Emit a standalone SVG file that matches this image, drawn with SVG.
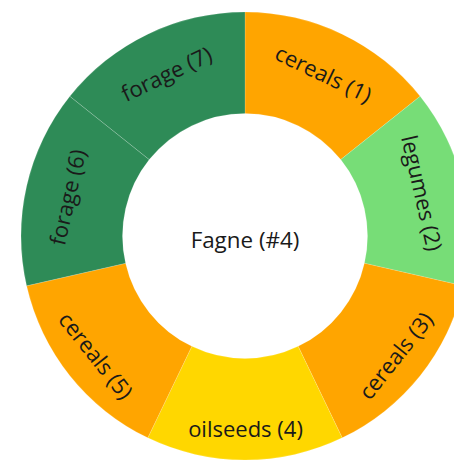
<svg xmlns="http://www.w3.org/2000/svg" width="454" height="461" viewBox="0 0 454 461">
  <style>
    .slice { stroke: #ffffff; stroke-opacity: 0.2; stroke-width: 0.8; }
    .forage { fill: #2e8b57; }
    .cereals { fill: #ffa500; }
    .legumes { fill: #77dd77; }
    .oilseeds { fill: #ffd700; }
    .lbl { font-family: "Open Sans", "Noto Sans", "DejaVu Sans", sans-serif; font-size: 22px; fill: #1a1a1a; text-anchor: middle; dominant-baseline: central; }
    .center { font-size: 22.4px; }
  </style>
  <rect width="454" height="461" fill="#ffffff"/>
  <g id="slice-1">
    <path class="slice cereals" d="M245,12 A224,224 0 0 1 420.13,96.34 L340.77,159.62 A122.5,122.5 0 0 0 245,113.5 Z"/>
    <text class="lbl" transform="translate(324,73) rotate(25.71)">cereals (1)</text>
  </g>
  <g id="slice-2">
    <path class="slice legumes" d="M420.13,96.34 A224,224 0 0 1 463.38,285.84 L364.43,263.26 A122.5,122.5 0 0 0 340.77,159.62 Z"/>
    <text class="lbl" transform="translate(423,193) rotate(77.14)">legumes (2)</text>
  </g>
  <g id="slice-3">
    <path class="slice cereals" d="M463.38,285.84 A224,224 0 0 1 342.19,437.82 L298.15,346.37 A122.5,122.5 0 0 0 364.43,263.26 Z"/>
    <text class="lbl" transform="translate(395,355) rotate(-51.43)">cereals (3)</text>
  </g>
  <g id="slice-4">
    <path class="slice oilseeds" d="M342.19,437.82 A224,224 0 0 1 147.81,437.82 L191.85,346.37 A122.5,122.5 0 0 0 298.15,346.37 Z"/>
    <text class="lbl" transform="translate(245.5,428)">oilseeds (4)</text>
  </g>
  <g id="slice-5">
    <path class="slice cereals" d="M147.81,437.82 A224,224 0 0 1 26.62,285.84 L125.57,263.26 A122.5,122.5 0 0 0 191.85,346.37 Z"/>
    <text class="lbl" transform="translate(96.7,355) rotate(51.43)">cereals (5)</text>
  </g>
  <g id="slice-6">
    <path class="slice forage" d="M26.62,285.84 A224,224 0 0 1 69.87,96.34 L149.23,159.62 A122.5,122.5 0 0 0 125.57,263.26 Z"/>
    <text class="lbl" transform="translate(66.7,197) rotate(-77.14)">forage (6)</text>
  </g>
  <g id="slice-7">
    <path class="slice forage" d="M69.87,96.34 A224,224 0 0 1 245,12 L245,113.5 A122.5,122.5 0 0 0 149.23,159.62 Z"/>
    <text class="lbl" transform="translate(166,73) rotate(-25.71)">forage (7)</text>
  </g>
  <g id="center-label">
    <text class="lbl center" x="245" y="239">Fagne (#4)</text>
  </g>
</svg>
